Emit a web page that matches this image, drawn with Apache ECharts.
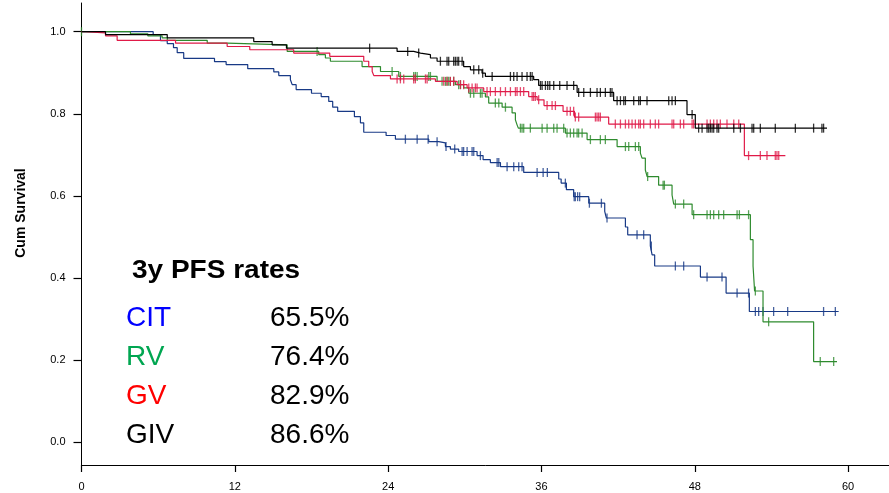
<!DOCTYPE html>
<html><head><meta charset="utf-8">
<script src="https://cdn.jsdelivr.net/npm/echarts@6/dist/echarts.min.js"></script>
<style>html,body{margin:0;padding:0;background:#fff}#c{width:889px;height:493px}</style>
</head><body><div id="c"></div><script>
// ---- Data (months, cumulative survival) ----
const xTicks = [0, 12, 24, 36, 48, 60];
const yTicks = [0, 0.2, 0.4, 0.6, 0.8, 1.0];

const citEvents = [[0,1.0],[5.61,0.993],[6.18,0.978],[6.71,0.971],[7.20,0.961],[7.49,0.949],[8.00,0.935],[10.41,0.927],[11.32,0.920],[13.01,0.910],[15.05,0.902],[15.44,0.893],[16.35,0.883],[16.49,0.871],[16.80,0.859],[18.00,0.850],[18.76,0.842],[19.35,0.830],[19.66,0.816],[20.05,0.806],[21.36,0.793],[21.83,0.778],[22.09,0.755],[23.84,0.747],[24.57,0.738],[27.18,0.732],[27.96,0.729],[28.48,0.720],[28.87,0.714],[29.52,0.708],[30.96,0.698],[31.43,0.688],[32.00,0.681],[32.79,0.671],[34.61,0.657],[37.35,0.641],[37.54,0.631],[37.95,0.615],[38.52,0.598],[39.70,0.582],[40.95,0.562],[41.08,0.546],[42.57,0.524],[42.75,0.505],[44.52,0.478],[44.66,0.456],[44.86,0.429],[48.44,0.402],[50.45,0.363],[52.27,0.318]];
const citCensor = [25.35,26.27,27.13,27.83,28.53,29.21,29.79,29.91,30.18,30.57,30.70,31.22,32.53,32.66,33.31,33.83,34.22,34.48,35.66,36.13,36.46,37.87,38.56,38.65,38.83,38.99,39.75,40.69,41.13,43.48,44.0,44.6,46.48,47.13,48.96,50.13,51.31,52.21,52.74,53.0,53.34,54.17,55.27,58.08,59.0];
const citEnd = 59.26;

const rvEvents = [[0,1.0],[3.83,0.995],[5.19,0.990],[6.31,0.985],[6.71,0.979],[9.84,0.972],[11.40,0.968],[16.10,0.952],[18.57,0.944],[19.09,0.936],[19.48,0.928],[21.96,0.915],[23.40,0.903],[24.83,0.891],[27.83,0.879],[29.26,0.871],[29.91,0.863],[30.31,0.850],[31.61,0.841],[31.87,0.826],[32.92,0.816],[33.70,0.802],[33.96,0.785],[34.09,0.773],[34.19,0.765],[37.87,0.753],[39.57,0.737],[41.92,0.720],[43.74,0.704],[43.87,0.692],[44.13,0.663],[44.27,0.647],[45.17,0.626],[46.22,0.602],[46.35,0.580],[47.79,0.554],[52.35,0.493],[52.56,0.429],[52.68,0.368],[53.34,0.293],[57.30,0.196]];
const rvCensor = [0,18.44,24.31,24.96,26.0,26.13,26.27,27.18,27.31,28.22,28.48,28.61,28.74,28.87,29.13,29.52,29.66,30.44,30.70,31.22,31.35,32.39,32.66,33.18,34.35,34.48,34.61,35.13,36.05,36.44,36.96,37.22,37.74,38.0,38.26,38.52,38.79,38.91,39.18,39.83,40.61,41.0,42.57,42.83,43.35,43.61,44.31,45.52,45.62,46.48,47.13,47.91,48.96,49.22,49.48,49.87,50.26,51.31,51.49,52.21,52.74,53.78,57.82,58.87];
const rvEnd = 59.13;

const gvEvents = [[0,1.0],[0.31,0.997],[1.88,0.990],[2.79,0.979],[7.36,0.972],[11.40,0.964],[13.17,0.956],[16.61,0.948],[19.43,0.940],[22.09,0.928],[22.48,0.915],[22.75,0.903],[22.88,0.893],[24.18,0.885],[27.70,0.879],[29.40,0.871],[30.18,0.863],[31.48,0.854],[35.00,0.842],[35.66,0.834],[36.20,0.820],[37.69,0.806],[38.58,0.792],[41.26,0.775],[51.88,0.698]];
const gvCensor = [24.70,24.96,25.22,26.0,26.13,26.92,27.05,28.35,28.61,28.87,29.13,29.66,29.91,30.31,30.57,30.83,30.96,31.74,32.0,32.39,32.79,33.18,33.57,33.96,34.09,34.35,34.61,35.27,35.39,35.52,35.78,36.44,36.83,37.09,38.0,38.26,38.52,38.65,38.91,40.22,40.35,40.48,40.61,41.78,42.18,42.57,42.83,43.09,43.35,43.61,43.74,44.0,44.52,44.91,45.17,46.22,46.35,46.87,47.13,47.79,47.91,48.96,49.22,49.48,49.74,50.0,50.52,51.05,51.44,52.21,53.13,53.65,54.30,54.43,54.57];
const gvEnd = 55.09;

const givEvents = [[0,1.0],[1.88,0.993],[6.71,0.985],[13.48,0.976],[14.92,0.968],[16.04,0.960],[24.70,0.952],[26.0,0.948],[26.53,0.944],[27.31,0.936],[27.83,0.928],[29.91,0.915],[30.44,0.907],[31.35,0.899],[31.61,0.891],[35.39,0.883],[35.78,0.869],[38.79,0.852],[41.65,0.832],[47.39,0.798],[48.04,0.765]];
const givCensor = [22.55,25.53,26.39,28.09,28.61,28.74,29.13,29.26,29.40,29.52,29.79,30.70,31.09,31.40,32.14,33.57,33.83,34.09,34.48,34.87,35.13,35.27,35.92,36.05,36.31,36.49,36.65,36.96,37.43,38.0,38.52,38.91,39.31,39.83,40.35,40.61,41.0,41.39,41.52,41.92,42.18,42.44,42.57,43.22,43.61,43.74,44.26,45.96,46.22,46.48,47.79,48.30,48.57,48.96,49.09,49.22,49.35,49.48,49.74,49.87,51.05,51.57,52.48,52.61,53.13,54.30,55.87,57.30,57.95,58.08];
const givEnd = 58.35;

const groupNames = ['CIT', 'RV', 'GV', 'GIV'];
const groupRates = ['65.5%', '76.4%', '82.9%', '86.6%'];
const tableTitle = '3y PFS rates';
const yAxisTitle = 'Cum Survival';

// ---- Styles ----
const lineColors = ['#183a86', '#2e8b2e', '#e01a48', '#000000'];
const textColors = ['#0000ff', '#00a651', '#ff0000', '#000000'];
const FONT = '"Liberation Sans", Arial, sans-serif';

function survAt(events, t) {
  let s = events[0][1];
  for (const e of events) { if (e[0] <= t + 1e-9) s = e[1]; else break; }
  return s;
}
function lineData(events, end) {
  return events.concat([[end, events[events.length - 1][1]]]);
}
function censorData(events, cens) {
  return cens.map(t => [t, survAt(events, t)]);
}

const groups = [
  [citEvents, citCensor, citEnd],
  [rvEvents, rvCensor, rvEnd],
  [gvEvents, gvCensor, gvEnd],
  [givEvents, givCensor, givEnd]
];

const series = [];
groups.forEach((g, i) => {
  series.push({
    type: 'line', step: 'end', data: lineData(g[0], g[2]), symbol: 'none',
    lineStyle: { color: lineColors[i], width: 1.2 }, silent: true, z: 2 + i
  });
  series.push({
    type: 'scatter', data: censorData(g[0], g[1]), symbol: 'rect', symbolSize: [1.3, 9],
    itemStyle: { color: lineColors[i] }, silent: true, z: 2 + i
  });
});

const graphics = [
  { type: 'text', x: 132, y: 271, scaleX: 1.12, style: { text: tableTitle, font: 'bold 25px ' + FONT, fill: '#000', textVerticalAlign: 'middle' } },
  { type: 'text', x: 21, y: 213, rotation: Math.PI / 2, style: { text: yAxisTitle, font: 'bold 14px ' + FONT, fill: '#000', textAlign: 'center', textVerticalAlign: 'middle' } }
];
const rowY = [318, 357, 396.5, 435.5];
groupNames.forEach((n, i) => {
  graphics.push({ type: 'text', x: 126, y: rowY[i], style: { text: n, font: '28px ' + FONT, fill: textColors[i], textVerticalAlign: 'middle' } });
  graphics.push({ type: 'text', x: 270, y: rowY[i], style: { text: groupRates[i], font: '28px ' + FONT, fill: '#000', textVerticalAlign: 'middle' } });
});

const chart = echarts.init(document.getElementById('c'), null, { renderer: 'canvas' });
chart.setOption({
  animation: false,
  backgroundColor: '#fff',
  grid: { left: 81.5, right: 0, top: 3, bottom: 28, containLabel: false },
  xAxis: {
    type: 'value', min: 0, max: 63.2,
    axisLine: { onZero: false, lineStyle: { color: '#000', width: 1 } },
    axisTick: { length: 7, lineStyle: { color: '#000', width: 1.2 }, customValues: xTicks },
    axisLabel: { customValues: xTicks, fontSize: 11, color: '#000', margin: 16, fontFamily: FONT },
    splitLine: { show: false }
  },
  yAxis: {
    type: 'value', min: -0.0561, max: 1.07,
    axisLine: { show: true, onZero: false, lineStyle: { color: '#000', width: 1 } },
    axisTick: { show: true, length: 8, lineStyle: { color: '#000', width: 1.2 }, customValues: yTicks },
    axisLabel: { customValues: yTicks, fontSize: 11, color: '#000', margin: 16, fontFamily: FONT, formatter: v => v.toFixed(1) },
    splitLine: { show: false }
  },
  series: series,
  graphic: graphics
});
</script></body></html>
